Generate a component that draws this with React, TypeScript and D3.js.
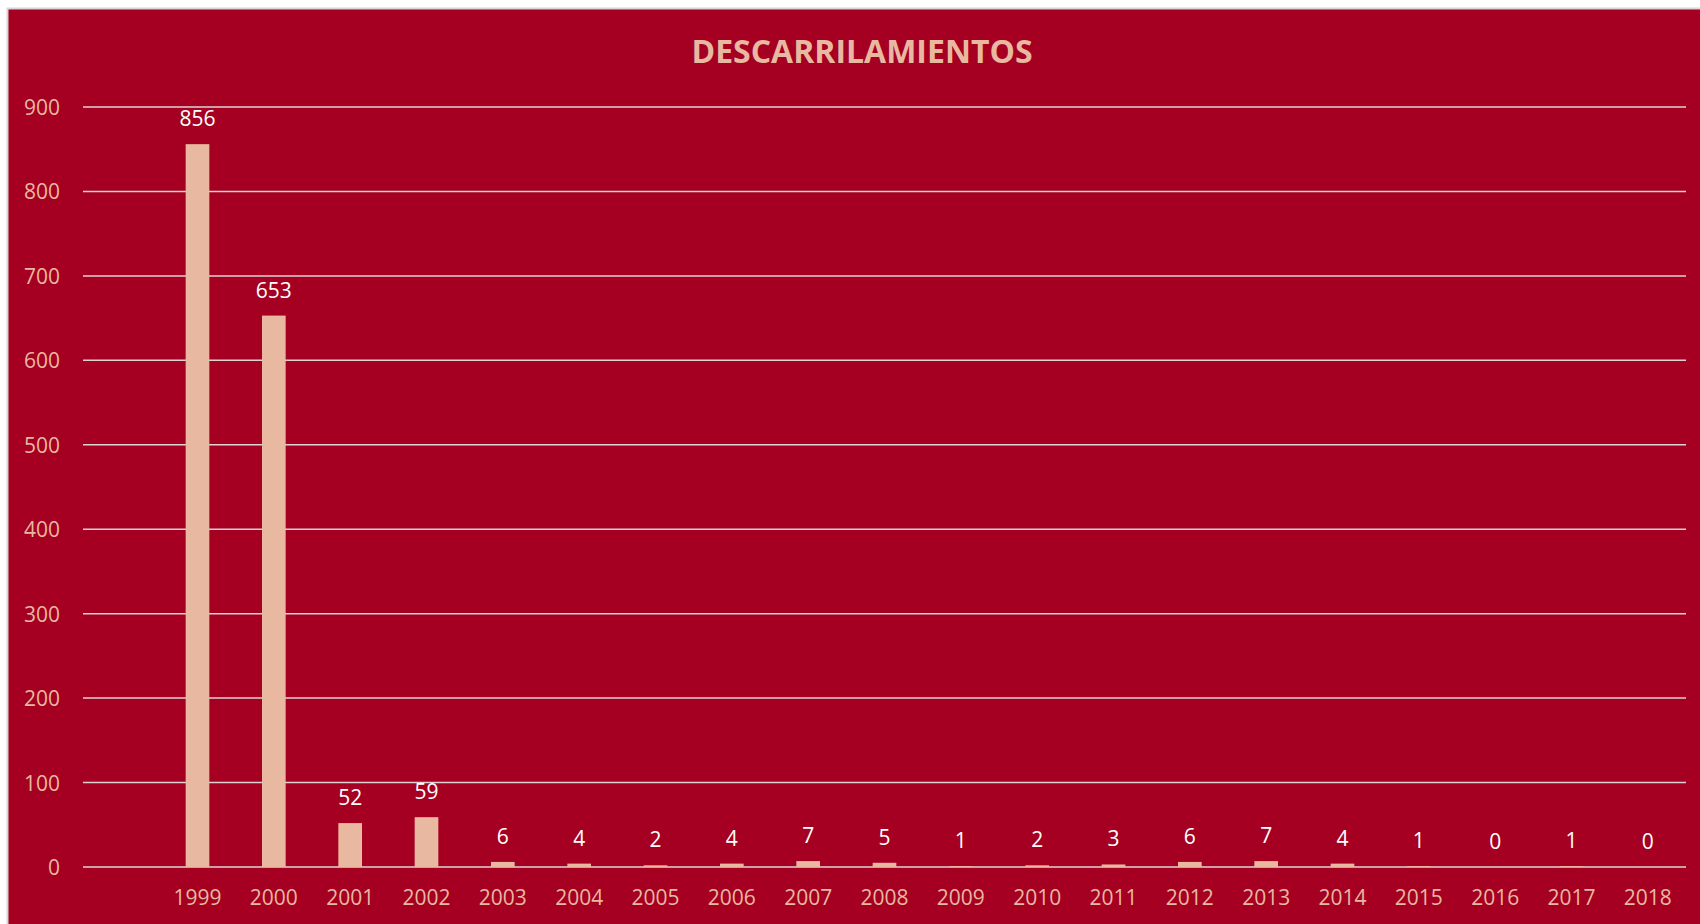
import { useEffect, useRef } from "react"
import * as d3 from "d3"

// first slot is an empty category in the source chart
const years = ["", "1999", "2000", "2001", "2002", "2003", "2004", "2005", "2006", "2007", "2008", "2009", "2010", "2011", "2012", "2013", "2014", "2015", "2016", "2017", "2018"]
const derailments: (number | null)[] = [null, 856, 653, 52, 59, 6, 4, 2, 4, 7, 5, 1, 2, 3, 6, 7, 4, 1, 0, 1, 0]
const yTicks = [0, 100, 200, 300, 400, 500, 600, 700, 800, 900]

const BG = "#a50021"
const PEACH = "#e8b8a0"
const FONT = "'Open Sans', 'Noto Sans', sans-serif"

export default function App() {
  const svgRef = useRef<SVGSVGElement>(null)

  useEffect(() => {
    if (!svgRef.current) return
    const svg = d3.select(svgRef.current)
    svg.selectAll("*").remove()

    const W = 1700
    const H = 924
    const margin = { top: 107, right: 14, bottom: 57, left: 83 }
    const width = W - margin.left - margin.right
    const height = H - margin.top - margin.bottom

    // chart background + thin frame
    svg.append("rect")
      .attr("x", 7.5)
      .attr("y", 8.5)
      .attr("width", W)
      .attr("height", H)
      .attr("fill", BG)
      .attr("stroke", "#d6d6d6")
      .attr("stroke-width", 2)

    svg.append("text")
      .attr("x", 862)
      .attr("y", 63)
      .attr("text-anchor", "middle")
      .attr("fill", PEACH)
      .attr("font-family", FONT)
      .attr("font-weight", "700")
      .attr("font-size", "32px")
      .text("DESCARRILAMIENTOS")

    const g = svg.append("g").attr("transform", `translate(${margin.left},${margin.top})`)

    const x = d3.scaleBand().domain(years).range([0, width]).paddingInner(0.69).paddingOuter(0.345)
    const y = d3.scaleLinear().domain([0, 900]).range([height, 0])

    // gridlines + y labels
    yTicks.forEach((t) => {
      g.append("line")
        .attr("x1", 0)
        .attr("x2", width)
        .attr("y1", y(t))
        .attr("y2", y(t))
        .attr("stroke", "#dcd4d4")
        .attr("stroke-width", 1.5)

      g.append("text")
        .attr("x", -23)
        .attr("y", y(t))
        .attr("text-anchor", "end")
        .attr("dominant-baseline", "central")
        .attr("fill", PEACH)
        .attr("font-family", FONT)
        .attr("font-size", "21px")
        .text(t)
    })

    // bars
    years.forEach((yr, i) => {
      const v = derailments[i]
      if (v === null) return
      const bx = x(yr) || 0
      g.append("rect")
        .attr("x", bx)
        .attr("y", y(v))
        .attr("width", x.bandwidth())
        .attr("height", height - y(v))
        .attr("fill", PEACH)

      g.append("text")
        .attr("x", bx + x.bandwidth() / 2)
        .attr("y", y(v) - 18)
        .attr("text-anchor", "middle")
        .attr("fill", "#ffffff")
        .attr("font-family", FONT)
        .attr("font-size", "21px")
        .text(v)

      g.append("text")
        .attr("x", bx + x.bandwidth() / 2)
        .attr("y", height + 38)
        .attr("text-anchor", "middle")
        .attr("fill", PEACH)
        .attr("font-family", FONT)
        .attr("font-size", "21px")
        .text(yr)
    })
  }, [])

  return (
    <svg
      ref={svgRef}
      width={1700}
      height={924}
      style={{ position: "absolute", left: 0, top: 0, display: "block", background: "#ffffff" }}
    />
  )
}
